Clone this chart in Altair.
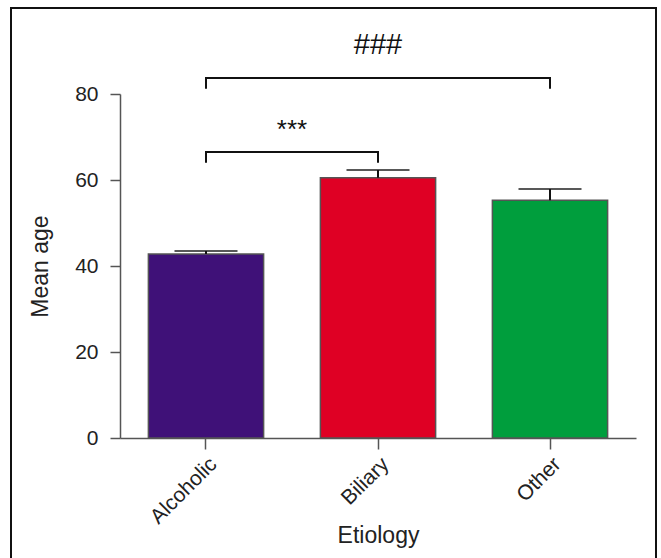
import altair as alt
import pandas as pd

categories = ["Alcoholic", "Biliary", "Other"]
means = [42.8, 60.5, 55.3]
uppers = [43.5, 62.3, 57.9]
colors = ["#3F1178", "#DF0024", "#009E3D"]

# significance brackets: (group, category, y, order)
br_group = ["a", "a", "a", "a", "b", "b", "b", "b"]
br_cat = ["Alcoholic", "Alcoholic", "Biliary", "Biliary",
          "Alcoholic", "Alcoholic", "Other", "Other"]
br_y = [64.0, 66.5, 66.5, 64.0, 81.2, 83.7, 83.7, 81.2]
br_ord = [0, 1, 2, 3, 0, 1, 2, 3]

ann_text = ["***", "###"]
ann_cat = ["Alcoholic", "Biliary"]
ann_y = [69.8, 89.4]

FONT = "Liberation Sans"

df = pd.DataFrame({"Etiology": categories, "mean": means, "upper": uppers})
br = pd.DataFrame({"g": br_group, "Etiology": br_cat, "y": br_y, "o": br_ord})
ann = pd.DataFrame({"t": ann_text, "Etiology": ann_cat, "y": ann_y})

xscale = alt.Scale(domain=categories, paddingInner=0.33, paddingOuter=0.165)
yscale = alt.Scale(domain=[0, 80], nice=False)

xenc = alt.X("Etiology:N", scale=xscale, sort=categories,
             axis=alt.Axis(title="Etiology", labelAngle=-45, tickSize=11,
                           labelPadding=4, titlePadding=-3))
xplain = alt.X("Etiology:N", scale=xscale, sort=categories)

bars = alt.Chart(df).mark_bar(stroke="#555", strokeWidth=1.5).encode(
    x=xenc,
    y=alt.Y("mean:Q", scale=yscale,
            axis=alt.Axis(title="Mean age", values=[0, 20, 40, 60, 80], tickSize=10,
                          labelPadding=12, titlePadding=22, grid=False)),
    color=alt.Color("Etiology:N", scale=alt.Scale(domain=categories, range=colors), legend=None),
)

err = alt.Chart(df).mark_rule(color="#111", strokeWidth=2).encode(
    x=xplain,
    y=alt.Y("mean:Q", scale=yscale),
    y2="upper:Q",
)

caps = alt.Chart(df).mark_tick(color="#111", thickness=2, size=63, orient="horizontal").encode(
    x=xplain,
    y=alt.Y("upper:Q", scale=yscale),
)

brackets = alt.Chart(br).mark_line(color="#111", strokeWidth=2).encode(
    x=xplain,
    y=alt.Y("y:Q", scale=yscale),
    detail="g:N",
    order="o:Q",
)

t1 = alt.Chart(ann[ann.t == "***"]).mark_text(font=FONT, fontSize=26, dx=86, baseline="alphabetic", color="#111").encode(
    x=xplain,
    y=alt.Y("y:Q", scale=yscale),
    text="t:N",
)
t2 = alt.Chart(ann[ann.t == "###"]).mark_text(font=FONT, fontSize=29, baseline="alphabetic", color="#111").encode(
    x=xplain,
    y=alt.Y("y:Q", scale=yscale),
    text="t:N",
)

frame = alt.Chart(alt.Data(values=[{"k": 1}])).mark_rect(
    fillOpacity=0, stroke="#111", strokeWidth=2
).encode(
    x=alt.value(-109), x2=alt.value(536), y=alt.value(-86), y2=alt.value(480)
)

chart = alt.layer(bars, err, caps, brackets, t1, t2, frame).properties(
    width=516, height=344,
    autosize=alt.AutoSizeParams(type="none"),
    padding={"left": 120, "top": 94, "right": 25, "bottom": 120},
    background="white",
).configure_view(stroke=None).configure_axis(
    labelFont=FONT, titleFont=FONT, labelFontSize=21, titleFontSize=23,
    titleFontWeight="normal", labelColor="#222", titleColor="#222",
    domainColor="#555", domainWidth=1.5, tickColor="#555", tickWidth=1.5,
    grid=False,
)

chart.save("out.html", embed_options={"renderer": "svg", "actions": False})
